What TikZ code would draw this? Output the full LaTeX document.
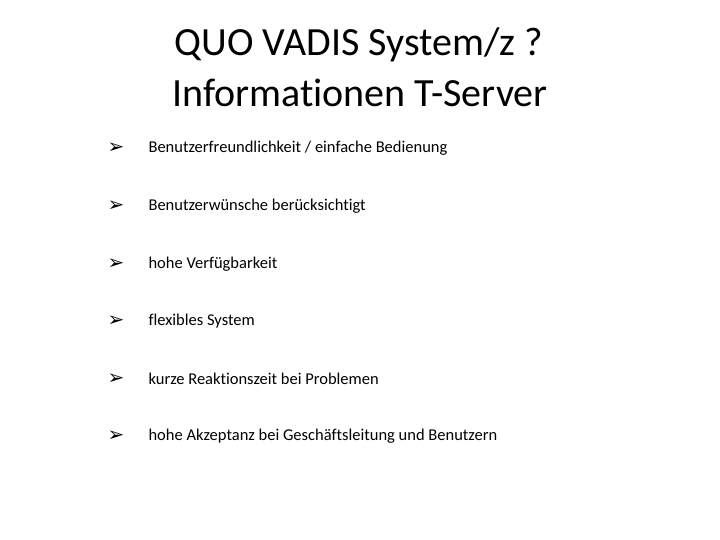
\documentclass[tikz,border=0pt]{standalone}
\usepackage{fontspec}
\setmainfont{Carlito}[Ligatures=NoCommon]
\newfontfamily\dv{DejaVu Sans}
\begin{document}
\begin{tikzpicture}[x=1pt,y=-1pt,
  title/.style={font=\fontsize{40}{46}\selectfont,anchor=center},
  item/.style={font=\fontsize{16.5}{20}\selectfont,anchor=west},
  bul/.style={font=\dv\fontsize{20}{22}\selectfont,anchor=center}]
\useasboundingbox (0,0) rectangle (720,540);
\node[title] (t1) at (359,45) {QUO VADIS System/z ?};
\node[title] (t2) at (360,93) {Informationen T-Server};
\foreach \y/\t [count=\i] in {148/{Benutzerfreundlichkeit / einfache Bedienung},
  206/{Benutzerwünsche berücksichtigt},
  264/{hohe Verfügbarkeit},
  321/{flexibles System},
  379/{kurze Reaktionszeit bei Problemen},
  436/{hohe Akzeptanz bei Geschäftsleitung und Benutzern}}{
  \node[bul] (b\i) at (116,\y) {➢};
  \node[item] (i\i) at (145,\y) {\t};
}
\end{tikzpicture}
\end{document}
